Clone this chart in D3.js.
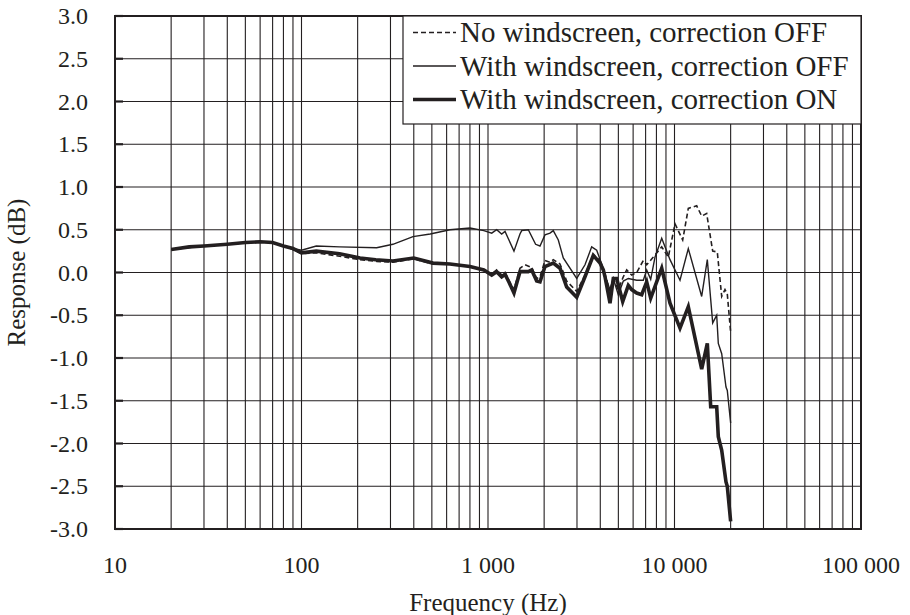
<!DOCTYPE html>
<html><head><meta charset="utf-8">
<script src="https://d3js.org/d3.v7.min.js"></script>
<style>body{margin:0;background:#fff}svg{display:block}text{font-family:"Liberation Serif","Times New Roman",serif;fill:#231f20}</style>
</head><body><svg id="c" width="910" height="615"></svg>
<script>
// ---- data ----
const yTicks = [-3, -2.5, -2, -1.5, -1, -0.5, 0, 0.5, 1, 1.5, 2, 2.5, 3];
const xTickLabels = ["10", "100", "1 000", "10 000", "100 000"];
const xTickValues = [10, 100, 1000, 10000, 100000];
const seriesNames = ["No windscreen, correction OFF", "With windscreen, correction OFF", "With windscreen, correction ON"];

const noWsFreq = [20,30,40,60,70,80,90,100,120,160,206,253,309,400,507,625,800,950,1047,1113,1184,1234,1300,1378,1484,1579,1715,1824,1900,2021,2150,2239,2432,2642,2990,3312,3669,3987,4152,4240,4510,4697,4996,5315,5542,5895,6271,6804,7094,7698,8540,9265,10062,11066,11858,13152,13988,14875,16027,16962,17911,18654,19190,20000];
const noWsVal  = [0.27,0.31,0.33,0.36,0.35,0.31,0.27,0.22,0.23,0.19,0.15,0.13,0.12,0.16,0.10,0.10,0.07,0.03,-0.02,0.03,-0.03,0.0,-0.10,-0.20,0.05,0.09,0.06,-0.07,-0.05,0.14,0.12,0.15,0.10,-0.10,-0.22,-0.03,0.21,0.14,0.04,-0.02,-0.22,-0.07,-0.20,-0.05,0.03,-0.03,0.0,0.14,0.09,0.18,0.30,0.18,0.57,0.38,0.75,0.78,0.66,0.69,0.25,0.24,-0.28,-0.20,-0.25,-0.70];

const wsOffFreq = [20,30,40,60,70,80,90,100,120,160,253,309,396,490,625,801,950,1047,1113,1184,1234,1378,1484,1516,1645,1800,1900,2021,2150,2239,2382,2533,2990,3312,3597,3826,4071,4152,4510,4697,4996,5315,5653,6271,6804,7094,7455,7861,8540,9461,10703,11858,13988,14995,16027,16837,17175,17911,18884,19190,20000];
const wsOffVal  = [0.27,0.31,0.33,0.36,0.35,0.31,0.28,0.26,0.31,0.30,0.29,0.33,0.42,0.45,0.50,0.52,0.49,0.46,0.50,0.45,0.48,0.25,0.45,0.49,0.50,0.33,0.31,0.44,0.46,0.49,0.38,0.17,-0.07,0.09,0.30,0.26,0.10,0.01,-0.20,-0.07,-0.26,-0.10,-0.07,-0.09,-0.09,0.03,-0.08,0.18,0.40,0.15,-0.09,0.28,-0.28,0.15,-0.59,-0.50,-0.83,-0.95,-1.34,-1.38,-1.76];

const wsOnFreq = [20,25,30,40,50,60,70,80,90,100,120,160,206,250,309,400,507,625,800,950,1047,1113,1184,1234,1300,1378,1484,1645,1715,1824,1900,2021,2239,2432,2642,2990,3312,3669,3987,4152,4240,4510,4697,4899,5276,5653,5895,6271,6671,7094,7455,8540,9461,10703,11858,13988,14995,15635,16837,17175,17911,18884,19190,20000];
const wsOnVal  = [0.27,0.30,0.31,0.33,0.35,0.36,0.35,0.31,0.28,0.23,0.25,0.22,0.17,0.15,0.135,0.17,0.11,0.10,0.07,0.03,-0.03,0.01,-0.05,-0.02,-0.12,-0.24,0.01,0.01,0.03,-0.10,-0.11,0.07,0.11,0.05,-0.17,-0.29,-0.05,0.20,0.11,0.03,-0.05,-0.36,-0.07,-0.07,-0.34,-0.15,-0.20,-0.24,-0.26,-0.11,-0.30,0.05,-0.36,-0.65,-0.40,-1.13,-0.83,-1.57,-1.57,-1.92,-2.08,-2.45,-2.50,-2.91];

// ---- chart ----
const svg = d3.select("#c");
const L = 115, R = 861, T = 16, B = 529;
const x = d3.scaleLog().domain([10, 100000]).range([L, R]);
const y = d3.scaleLinear().domain([-3, 3]).range([B, T]);
const ink = "#231f20";

// vertical grid
const minor = [];
for (let d = 10; d < 100000; d *= 10) for (let k = 1; k <= 9; k++) minor.push(d * k);
svg.append("g").selectAll("line").data(minor).join("line")
  .attr("x1", d => x(d)).attr("x2", d => x(d)).attr("y1", T).attr("y2", B)
  .attr("stroke", ink).attr("stroke-width", 1.1);
// horizontal grid
svg.append("g").selectAll("line").data(yTicks).join("line")
  .attr("x1", L).attr("x2", R).attr("y1", d => y(d)).attr("y2", d => y(d))
  .attr("stroke", ink).attr("stroke-width", 1.1);
// y tick marks (inside)
svg.append("g").selectAll("line").data(yTicks).join("line")
  .attr("x1", L).attr("x2", L + 8).attr("y1", d => y(d)).attr("y2", d => y(d))
  .attr("stroke", ink).attr("stroke-width", 2.2);

// frame
svg.append("rect").attr("x", L).attr("y", T).attr("width", R - L).attr("height", B - T)
  .attr("fill", "none").attr("stroke", ink).attr("stroke-width", 2);

// y labels
const fmt = d => d3.format(".1f")(d).replace("\u2212", "-");
svg.append("g").selectAll("text").data(yTicks).join("text")
  .attr("x", 88).attr("y", d => y(d) + 8).attr("text-anchor", "end")
  .attr("font-size", 24).text(fmt);
// x labels
svg.append("g").selectAll("text").data(xTickValues).join("text")
  .attr("x", d => x(d)).attr("y", 573).attr("text-anchor", "middle")
  .attr("font-size", 24).text((d, i) => xTickLabels[i]);

// axis titles
svg.append("text").attr("x", (L + R) / 2).attr("y", 611).attr("text-anchor", "middle")
  .attr("font-size", 25).text("Frequency (Hz)");
svg.append("text").attr("transform", `translate(25,${(T + B) / 2}) rotate(-90)`)
  .attr("text-anchor", "middle").attr("font-size", 25).text("Response (dB)");

// curves
const line = d3.line().x(d => x(d[0])).y(d => y(d[1]));
const zip = (f, v) => f.map((d, i) => [d, v[i]]);
const styles = [
  {w: 1.6, dash: "5,3"},
  {w: 1.4, dash: null},
  {w: 3.6, dash: null}
];
const data = [zip(noWsFreq, noWsVal), zip(wsOffFreq, wsOffVal), zip(wsOnFreq, wsOnVal)];
data.forEach((s, i) => {
  svg.append("path").datum(s).attr("d", line).attr("fill", "none")
    .attr("stroke", ink).attr("stroke-width", styles[i].w)
    .attr("stroke-dasharray", styles[i].dash).attr("stroke-linejoin", "miter");
});

// legend
const lg = svg.append("g");
lg.append("rect").attr("x", 403).attr("y", T).attr("width", R - 403).attr("height", 108)
  .attr("fill", "#fff").attr("stroke", ink).attr("stroke-width", 1.2);
const rowsY = [32.5, 66, 99.5];
seriesNames.forEach((n, i) => {
  lg.append("line").attr("x1", 413).attr("x2", 456).attr("y1", rowsY[i]).attr("y2", rowsY[i])
    .attr("stroke", ink).attr("stroke-width", styles[i].w).attr("stroke-dasharray", styles[i].dash);
  lg.append("text").attr("x", 460).attr("y", rowsY[i] + 9.5).attr("font-size", 29).text(n);
});
</script></body></html>
